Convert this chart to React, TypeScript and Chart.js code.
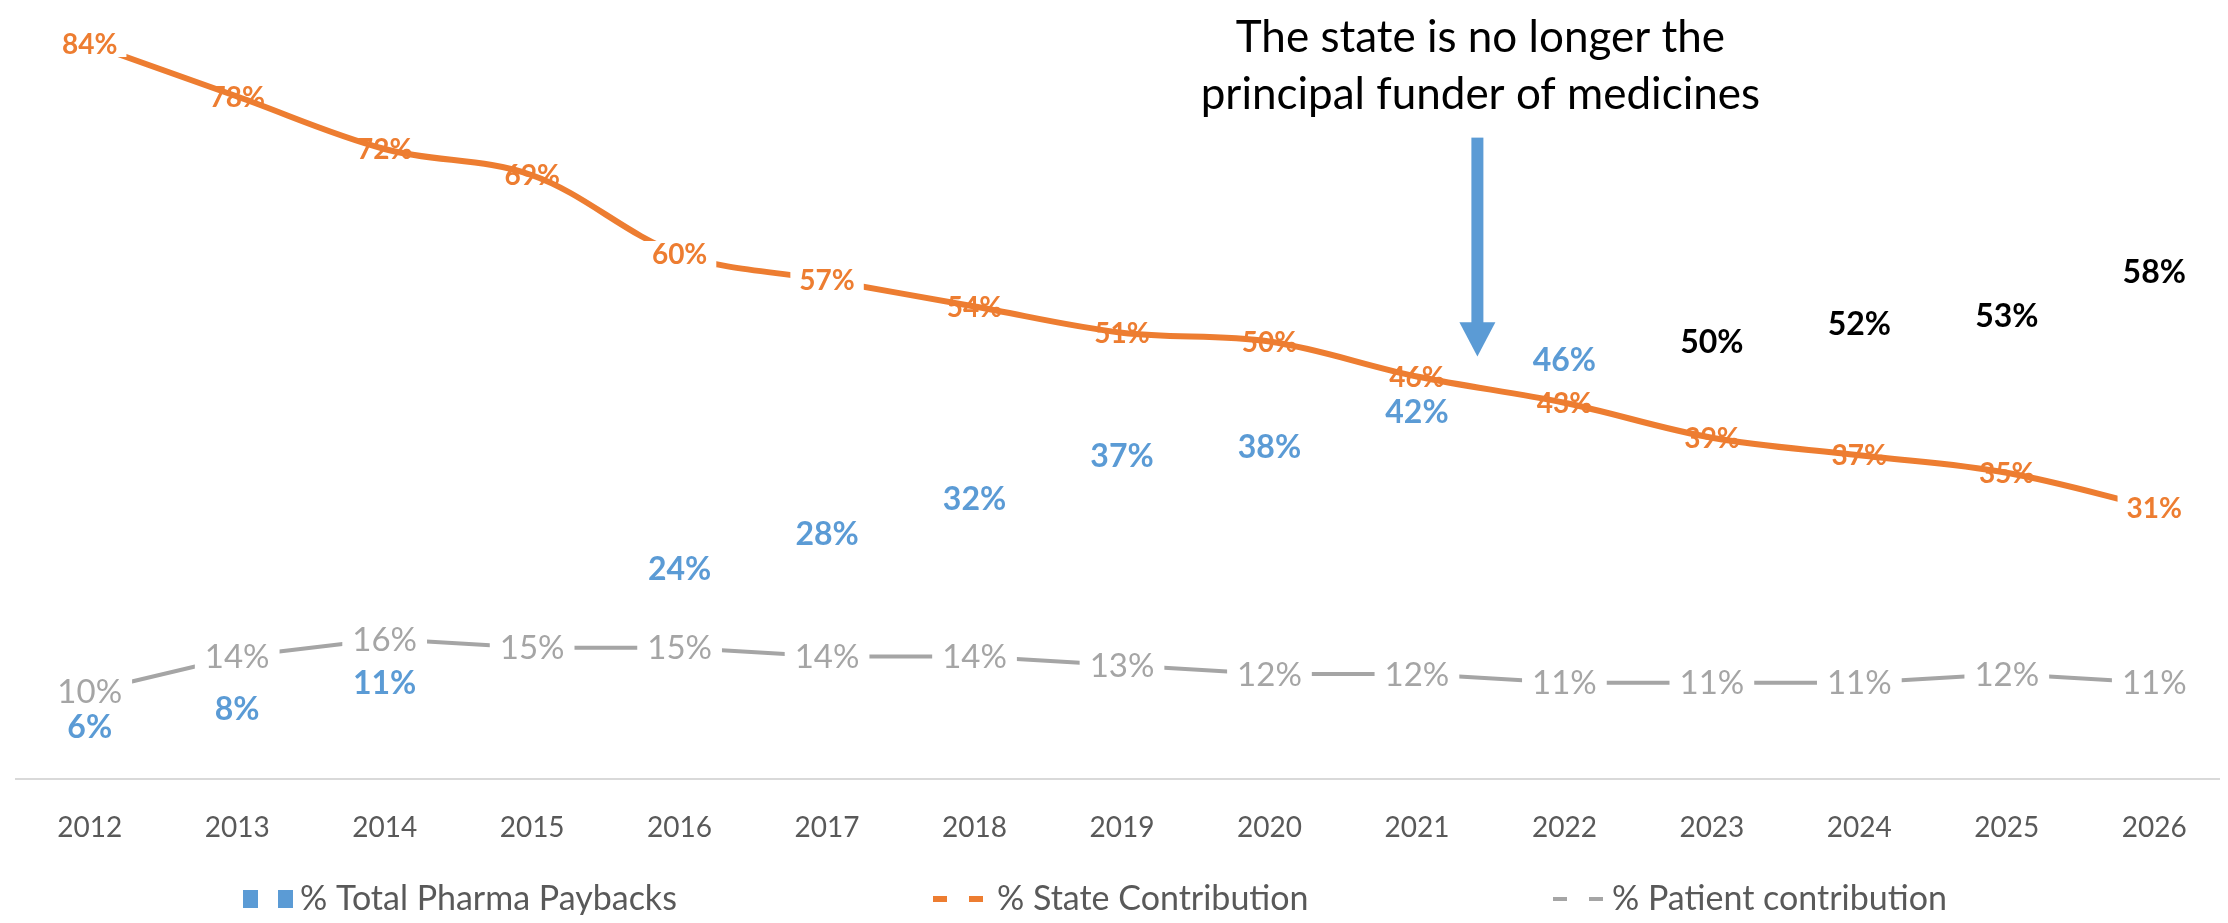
import React, { useEffect, useRef } from 'react';
import { Chart, registerables } from 'chart.js';

Chart.register(...registerables);

// ---------- data ----------
const years = ['2012', '2013', '2014', '2015', '2016', '2017', '2018', '2019', '2020', '2021', '2022', '2023', '2024', '2025', '2026'];
const pharmaPaybacks: (number | null)[] = [6, 8, 11, null, 24, 28, 32, 37, 38, 42, 46, 50, 52, 53, 58];
const stateContribution = [84, 78, 72, 69, 60, 57, 54, 51, 50, 46, 43, 39, 37, 35, 31];
const patientContribution = [10, 14, 16, 15, 15, 14, 14, 13, 12, 12, 11, 11, 11, 12, 11];
const seriesNames = ['% Total Pharma Paybacks', '% State Contribution', '% Patient contribution'];
const annotationLines = ['The state is no longer the', 'principal funder of medicines'];

// ---------- styles ----------
const BLUE = '#5B9BD5';
const ORANGE = '#ED7D31';
const GRAY = '#A5A5A5';
const TEXT = '#595959';
const FONT = 'Lato, "Noto Sans", sans-serif';

const pharmaLabelColors = years.map((_, i) => (i >= 11 ? '#000000' : BLUE));
const pharmaLabelShift = [0, 0, 0, 0, 0, 0, 0, 0, 0, 0, -17, 0, 0, 0, 0];
const stateLabelBackground = [true, false, false, false, true, true, false, false, false, false, false, false, false, false, true];

const legendLayout = [
  { markerX: 235, textX: 292, lineWidth: 18, dash: 15 },
  { markerX: 925, textX: 989, lineWidth: 6, dash: 14 },
  { markerX: 1545, textX: 1604, lineWidth: 4, dash: 14 },
];

const pointLabelsPlugin = {
  id: 'pointLabels',
  afterDatasetsDraw(chart: any) {
    const ctx = chart.ctx;
    [2, 1, 0].forEach((di) => {
      const ds = chart.data.datasets[di];
      const cfg = ds.labelStyle;
      const meta = chart.getDatasetMeta(di);
      ctx.save();
      ctx.font = cfg.font;
      ctx.textAlign = 'center';
      ctx.textBaseline = 'middle';
      meta.data.forEach((pt: any, i: number) => {
        const v = ds.data[i];
        if (v === null || v === undefined) return;
        const text = `${v}%`;
        const x = pt.x;
        const y = pt.y + (cfg.shift ? cfg.shift[i] : 0);
        if (cfg.background && cfg.background[i]) {
          const w = ctx.measureText(text).width + 2 * cfg.padX;
          ctx.fillStyle = '#ffffff';
          ctx.fillRect(x - w / 2, y - cfg.boxH / 2, w, cfg.boxH);
        }
        ctx.fillStyle = Array.isArray(cfg.colors) ? cfg.colors[i] : cfg.colors;
        ctx.fillText(text, x, y + 1);
      });
      ctx.restore();
    });
  },
};

const decorPlugin = {
  id: 'decor',
  afterDraw(chart: any) {
    const ctx = chart.ctx;
    const xs = chart.scales.x;
    const ys = chart.scales.y;
    // annotation arrow
    const ax = xs.getPixelForValue(9.41);
    const yTop = ys.getPixelForValue(73.3);
    const yHead = ys.getPixelForValue(52.2);
    const yTip = ys.getPixelForValue(48.3);
    ctx.save();
    ctx.fillStyle = BLUE;
    ctx.fillRect(ax - 6, yTop, 12, yHead - yTop + 1);
    ctx.beginPath();
    ctx.moveTo(ax - 18, yHead);
    ctx.lineTo(ax + 18, yHead);
    ctx.lineTo(ax, yTip);
    ctx.closePath();
    ctx.fill();
    // annotation text
    ctx.fillStyle = '#000000';
    ctx.font = `44px ${FONT}`;
    ctx.textAlign = 'center';
    ctx.textBaseline = 'middle';
    ctx.fillText(annotationLines[0], ax + 3, ys.getPixelForValue(84.7));
    ctx.fillText(annotationLines[1], ax + 3, ys.getPixelForValue(78.2));
    // legend
    const ly = 891;
    chart.data.datasets.forEach((ds: any, i: number) => {
      const L = legendLayout[i];
      ctx.fillStyle = ds.borderColor;
      ctx.fillRect(L.markerX, ly - L.lineWidth / 2, L.dash, L.lineWidth);
      ctx.fillRect(L.markerX + 50 - L.dash, ly - L.lineWidth / 2, L.dash, L.lineWidth);
      ctx.fillStyle = TEXT;
      ctx.font = `34px ${FONT}`;
      ctx.textAlign = 'left';
      ctx.fillText(ds.label, L.textX, ly);
    });
    ctx.restore();
  },
};

export default function App() {
  const ref = useRef<HTMLCanvasElement | null>(null);
  useEffect(() => {
    if (!ref.current) return;
    const chart = new Chart(ref.current, {
      type: 'line',
      data: {
        labels: years,
        datasets: [
          {
            label: seriesNames[0],
            data: pharmaPaybacks,
            borderColor: BLUE,
            backgroundColor: BLUE,
            showLine: false,
            pointRadius: 0,
            labelStyle: { font: `bold 32px ${FONT}`, colors: pharmaLabelColors, shift: pharmaLabelShift },
          } as any,
          {
            label: seriesNames[1],
            data: stateContribution,
            borderColor: ORANGE,
            backgroundColor: ORANGE,
            borderWidth: 6,
            tension: 0.35,
            pointRadius: 0,
            labelStyle: { font: `bold 28px ${FONT}`, colors: ORANGE, background: stateLabelBackground, padX: 9, boxH: 26 },
          } as any,
          {
            label: seriesNames[2],
            data: patientContribution,
            borderColor: GRAY,
            backgroundColor: GRAY,
            borderWidth: 4,
            tension: 0,
            pointRadius: 0,
            labelStyle: { font: `33px ${FONT}`, colors: GRAY, background: years.map(() => true), padX: 10, boxH: 28 },
          } as any,
        ],
      },
      options: {
        responsive: false,
        animation: false,
        layout: { padding: { left: 8, right: 0, top: 1, bottom: 0 } },
        plugins: {
          legend: { display: false },
          tooltip: { enabled: false },
        },
        scales: {
          x: {
            offset: true,
            grid: { display: false },
            border: { display: true, color: '#D9D9D9', width: 2 },
            ticks: { color: TEXT, font: { family: FONT, size: 28 }, padding: 24, autoSkip: false, maxRotation: 0 },
            afterFit: (scale: any) => {
              scale.height = 136;
            },
          },
          y: {
            display: false,
            min: 0,
            max: 88,
          },
        },
      },
      plugins: [pointLabelsPlugin, decorPlugin],
    } as any);
    return () => chart.destroy();
  }, []);
  return <canvas ref={ref} width={2220} height={907} style={{ display: 'block' }} />;
}
